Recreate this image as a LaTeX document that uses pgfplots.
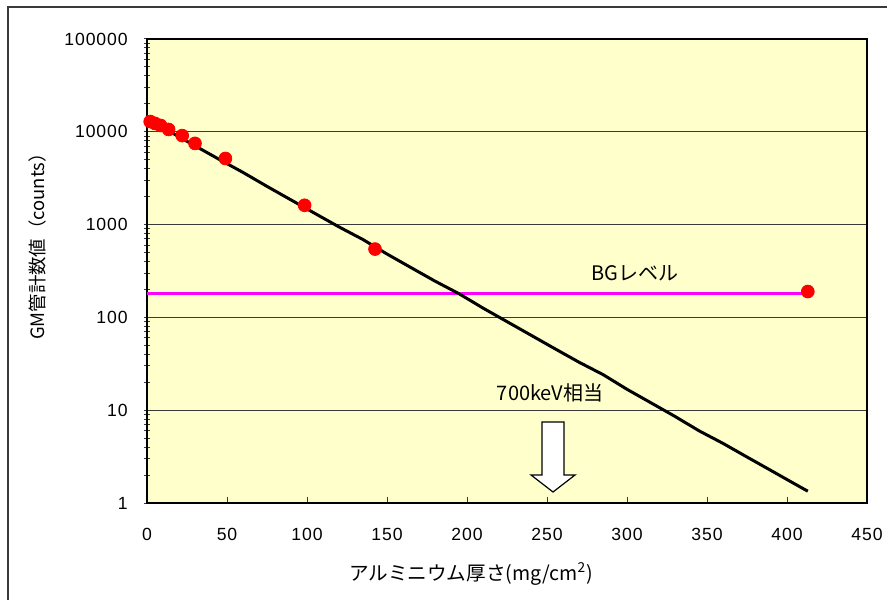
\documentclass[border=0pt]{standalone}
\usepackage{pgfplots}
\pgfplotsset{compat=1.18}
\usepackage{fontspec}
\setmainfont{Liberation Sans}
\newfontfamily\tickfont[LetterSpace=5]{Liberation Sans}
\newfontfamily\cjk{Noto Sans CJK JP}
\definecolor{plotbg}{HTML}{FFFFCC}
\definecolor{bgline}{HTML}{FF00FF}
\definecolor{gridc}{HTML}{3A3A3A}
\definecolor{ptred}{HTML}{FF0000}
\begin{document}
\begin{tikzpicture}[x=1pt,y=1pt]
\useasboundingbox (0,0) rectangle (443.5,299.5);
% outer chart frame (right and bottom edges fall outside the picture)
\draw[line width=0.9pt, color=gridc] (4,-10) -- (4,296) -- (460,296);
\begin{axis}[
  at={(73.5pt,48pt)}, anchor=south west,
  scale only axis, width=360pt, height=232pt,
  xmin=0, xmax=450, ymin=1, ymax=100000,
  ymode=log,
  xtick={0,50,...,450},
  ytick={1,10,100,1000,10000,100000},
  yticklabels={1,10,100,1000,10000,100000},
  minor ytick={},
  axis background/.style={fill=plotbg},
  ymajorgrids, grid style={gridc, line width=0.5pt},
  axis line style={line width=0.9pt, black},
  tick align=inside, major tick length=3pt,
  tick style={gridc, line width=0.5pt},
  ytick style={xshift=-1.5pt},
  xtick pos=bottom, ytick pos=left,
  /pgf/number format/assume math mode=true,
  ticklabel style={font=\tickfont\fontsize{8.8}{10}\selectfont},
  yticklabel style={anchor=east, inner sep=0pt, xshift=-9.5pt},
  xticklabel style={anchor=north, inner sep=0pt, yshift=-12.5pt},
  clip=false,
]
% BG level
\addplot[color=bgline, line width=1.5pt] coordinates {(0,180) (413,180)};
% measured counts
\addplot[only marks, mark=*, mark size=3.2pt, color=ptred, mark options={draw=none, fill=ptred}]
  coordinates {(2,12900) (5,12300) (8.5,11700) (13.5,10600) (22,9100) (30,7500)
               (49,5160) (98.5,1615) (142.5,545) (413,190)};
% fitted attenuation curve
\addplot[black, line width=1.5pt] coordinates {
  (3,12940) (15,9886) (30,7063) (45,5058) (60,3650) (75,2582) (90,1845)
  (105,1318) (120,944) (135,690) (150,482) (165,344) (180,246) (195,180)
  (210,126) (225,90) (240,64.3) (255,45.9) (270,32.9) (285,24.2) (300,16.8)
  (315,12.0) (330,8.57) (345,6.0) (360,4.39) (375,3.13) (390,2.24)
  (405,1.60) (413,1.34)};
\end{axis}
% annotations
\node[font=\cjk\fontsize{10}{12}\selectfont] at (317.5,163) {BGレベル};
\node[font=\cjk\fontsize{10}{12}\selectfont] at (275,103) {700keV相当};
\draw[black, line width=0.6pt, fill=white]
  (271,88.5) -- (282,88.5) -- (282,62) -- (287.5,62) -- (276.5,53.5)
  -- (265.5,62) -- (271,62) -- cycle;
% axis titles
\node[rotate=90, font=\cjk\fontsize{9.2}{10}\selectfont] at (19,178.5) {GM管計数値（counts）};
\node[font=\cjk\fontsize{9.8}{11}\selectfont] at (235.5,12.5) {アルミニウム厚さ(mg/cm\textsuperscript{2})};
\end{tikzpicture}
\end{document}
